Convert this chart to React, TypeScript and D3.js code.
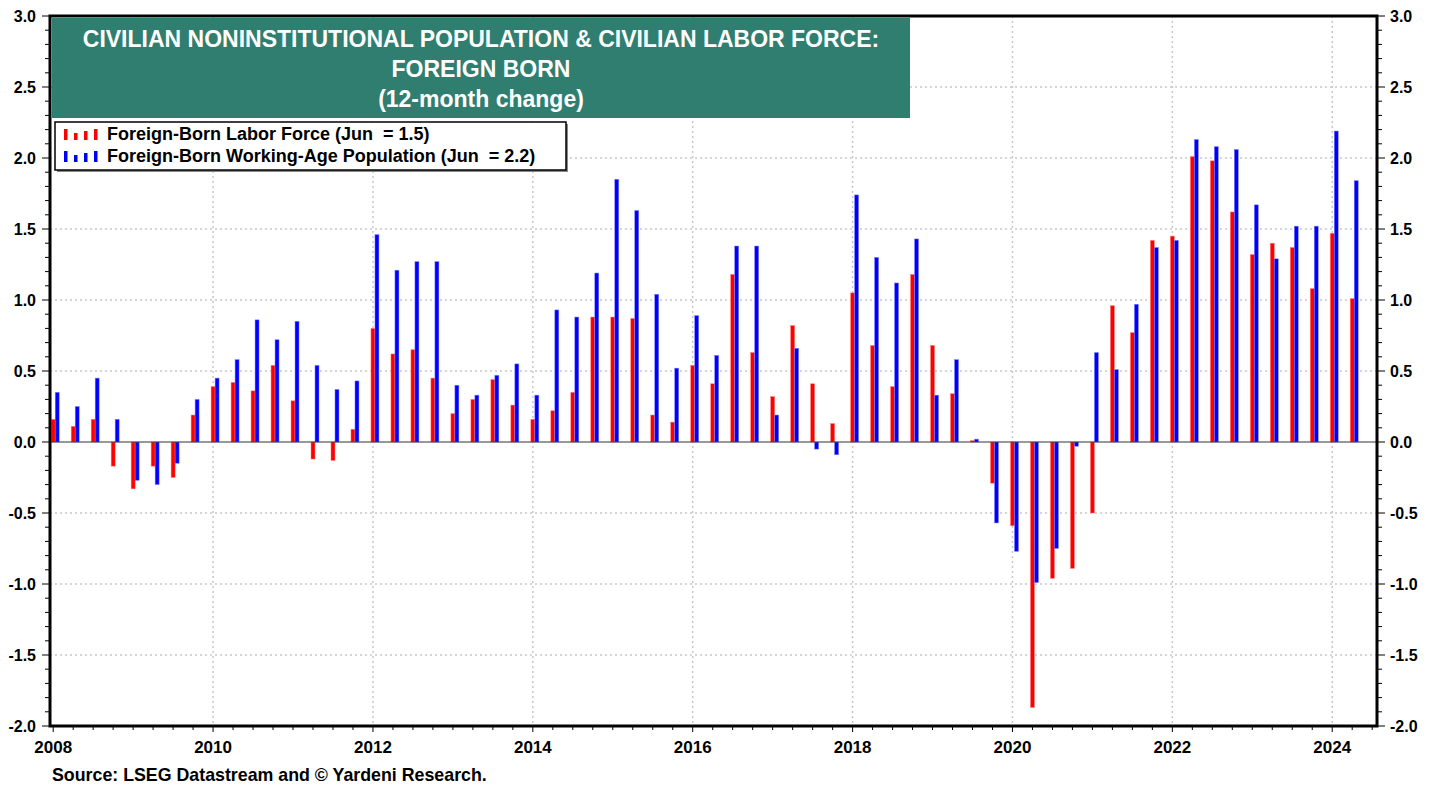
import React from "react";
import * as d3 from "d3";

// Quarterly observations
const periods = [
  "2008Q1","2008Q2","2008Q3","2008Q4","2009Q1","2009Q2","2009Q3","2009Q4",
  "2010Q1","2010Q2","2010Q3","2010Q4","2011Q1","2011Q2","2011Q3","2011Q4",
  "2012Q1","2012Q2","2012Q3","2012Q4","2013Q1","2013Q2","2013Q3","2013Q4",
  "2014Q1","2014Q2","2014Q3","2014Q4","2015Q1","2015Q2","2015Q3","2015Q4",
  "2016Q1","2016Q2","2016Q3","2016Q4","2017Q1","2017Q2","2017Q3","2017Q4",
  "2018Q1","2018Q2","2018Q3","2018Q4","2019Q1","2019Q2","2019Q3","2019Q4",
  "2020Q1","2020Q2","2020Q3","2020Q4","2021Q1","2021Q2","2021Q3","2021Q4",
  "2022Q1","2022Q2","2022Q3","2022Q4","2023Q1","2023Q2","2023Q3","2023Q4",
  "2024Q1","2024Q2",
];

const laborForce = [
  0.16, 0.11, 0.16, -0.17, -0.33, -0.17, -0.25, 0.19,
  0.39, 0.42, 0.36, 0.54, 0.29, -0.12, -0.13, 0.09,
  0.80, 0.62, 0.65, 0.45, 0.20, 0.30, 0.44, 0.26,
  0.16, 0.22, 0.35, 0.88, 0.88, 0.87, 0.19, 0.14,
  0.54, 0.41, 1.18, 0.63, 0.32, 0.82, 0.41, 0.13,
  1.05, 0.68, 0.39, 1.18, 0.68, 0.34, 0.01, -0.29,
  -0.59, -1.87, -0.96, -0.89, -0.50, 0.96, 0.77, 1.42,
  1.45, 2.01, 1.98, 1.62, 1.32, 1.40, 1.37, 1.08,
  1.47, 1.01,
];

const workingAgePop = [
  0.35, 0.25, 0.45, 0.16, -0.27, -0.30, -0.15, 0.30,
  0.45, 0.58, 0.86, 0.72, 0.85, 0.54, 0.37, 0.43,
  1.46, 1.21, 1.27, 1.27, 0.40, 0.33, 0.47, 0.55,
  0.33, 0.93, 0.88, 1.19, 1.85, 1.63, 1.04, 0.52,
  0.89, 0.61, 1.38, 1.38, 0.19, 0.66, -0.05, -0.09,
  1.74, 1.30, 1.12, 1.43, 0.33, 0.58, 0.02, -0.57,
  -0.77, -0.99, -0.75, -0.03, 0.63, 0.51, 0.97, 1.37,
  1.42, 2.13, 2.08, 2.06, 1.67, 1.29, 1.52, 1.52,
  2.19, 1.84,
];

const yTickLabels = ["-2.0","-1.5","-1.0","-0.5","0.0","0.5","1.0","1.5","2.0","2.5","3.0"];
const xYearLabels = ["2008","2010","2012","2014","2016","2018","2020","2022","2024"];

const titleLines = [
  "CIVILIAN NONINSTITUTIONAL POPULATION & CIVILIAN LABOR FORCE:",
  "FOREIGN BORN",
  "(12-month change)",
];
const legendItems = [
  { label: "Foreign-Born Labor Force (Jun  = 1.5)", color: "#ff0000" },
  { label: "Foreign-Born Working-Age Population (Jun  = 2.2)", color: "#0000ff" },
];
const sourceText = "Source: LSEG Datastream and \u00A9 Yardeni Research.";

const W = 1438;
const H = 789;
const left = 50;
const right = 1377;
const top = 16;
const bottom = 726;

const periodToYear = (p: string) => +p.slice(0, 4) + (+p.slice(5) - 1) / 4;

export default function App() {
  const x = d3.scaleLinear().domain([2007.96, 2024.56]).range([left, right]);
  const y = d3.scaleLinear().domain([-2, 3]).range([bottom, top]);

  const minorY = d3.range(-20, 31).map((v) => v / 10);
  const quarterTicks = d3.range(2008, 2024.56, 0.25);
  const font = "'Liberation Sans', Arial, sans-serif";

  const bars = periods.map((p, i) => {
    const cx = x(periodToYear(p));
    const r = laborForce[i];
    const b = workingAgePop[i];
    return (
      <g key={p}>
        <rect x={cx - 2} width={4} y={Math.min(y(r), y(0))} height={Math.abs(y(r) - y(0))} fill="#ff0000" stroke="#ff8080" strokeWidth={0.5} />
        <rect x={cx + 2} width={4} y={Math.min(y(b), y(0))} height={Math.abs(y(b) - y(0))} fill="#0000ff" stroke="#8080ff" strokeWidth={0.5} />
      </g>
    );
  });

  const iconHeights = [11, 7, 9, 11];

  return (
    <svg width={W} height={H} style={{ position: "absolute", left: 0, top: 0, background: "#fff" }}>
      <rect x={0} y={0} width={W} height={H} fill="#fff" />
      {/* grid */}
      {yTickLabels.map((t) => +t).filter((v) => v !== 0 && v !== 3 && v !== -2).map((v) => (
        <line key={"hg" + v} x1={left} x2={right} y1={y(v)} y2={y(v)} stroke="#c8c8c8" strokeWidth={1.5} strokeDasharray="2,3" />
      ))}
      {xYearLabels.map((t) => +t).filter((v) => v > 2008).map((v) => (
        <line key={"vg" + v} x1={x(v)} x2={x(v)} y1={top} y2={bottom} stroke="#c8c8c8" strokeWidth={1.5} strokeDasharray="2,3" />
      ))}
      {/* bars */}
      {bars}
      {/* zero line */}
      <line x1={left} x2={right} y1={y(0)} y2={y(0)} stroke="#333" strokeWidth={1} />
      {/* frame */}
      <rect x={left} y={top} width={right - left} height={bottom - top} fill="none" stroke="#000" strokeWidth={3} />
      {/* y ticks */}
      {minorY.map((v, i) => {
        const major = i % 5 === 0;
        return (
          <g key={"yt" + i}>
            <line x1={left - (major ? 8 : 5)} x2={left} y1={y(v)} y2={y(v)} stroke="#000" strokeWidth={1} />
            <line x1={right} x2={right + (major ? 8 : 5)} y1={y(v)} y2={y(v)} stroke="#000" strokeWidth={1} />
          </g>
        );
      })}
      {yTickLabels.map((t) => (
        <g key={"yl" + t}>
          <text x={36} y={y(+t) + 5.5} textAnchor="end" fontFamily={font} fontWeight="bold" fontSize={16} fill="#000">{t}</text>
          <text x={1390} y={y(+t) + 5.5} textAnchor="start" fontFamily={font} fontWeight="bold" fontSize={16} fill="#000">{t}</text>
        </g>
      ))}
      {/* x ticks */}
      {quarterTicks.map((v, i) => (
        <line key={"xt" + i} x1={x(v)} x2={x(v)} y1={bottom} y2={bottom + (i % 8 === 0 ? 6 : 4)} stroke="#000" strokeWidth={1} />
      ))}
      {xYearLabels.map((t) => (
        <text key={"xl" + t} x={x(+t)} y={753} textAnchor="middle" fontFamily={font} fontWeight="bold" fontSize={17} fill="#000">{t}</text>
      ))}
      {/* title box */}
      <rect x={52} y={18} width={858} height={100} fill="#2f7e70" />
      {titleLines.map((l, i) => (
        <text key={"tt" + i} x={481} y={47 + i * 30} textAnchor="middle" fontFamily={font} fontWeight="bold" fontSize={23} fill="#fff">{l}</text>
      ))}
      {/* legend */}
      <rect x={57} y={124} width={511} height={48} fill="#888" />
      <rect x={55} y={122} width={511} height={48} fill="#fff" stroke="#000" strokeWidth={1.5} />
      {legendItems.map((it, i) => {
        const baseY = 140 + i * 22;
        return (
          <g key={"lg" + i}>
            {iconHeights.map((h, k) => (
              <rect key={k} x={64 + k * 10} y={baseY - h} width={3.5} height={h} fill={it.color} />
            ))}
            <text x={107} y={baseY} fontFamily={font} fontWeight="bold" fontSize={18} fill="#000" style={{ whiteSpace: "pre" }}>{it.label}</text>
          </g>
        );
      })}
      {/* source */}
      <text x={52} y={781} fontFamily={font} fontWeight="bold" fontSize={17.8} fill="#000">{sourceText}</text>
    </svg>
  );
}
